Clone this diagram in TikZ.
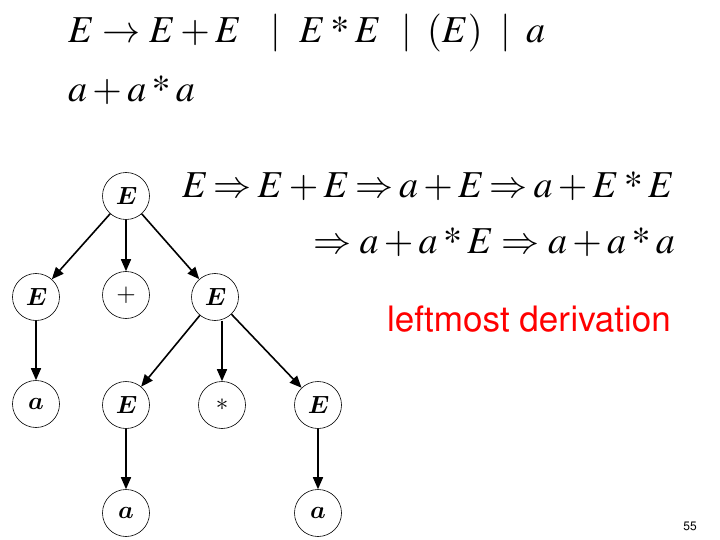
\documentclass[tikz,border=0pt]{standalone}
\usepackage[T1]{fontenc}
\usepackage{mathptmx}
\usetikzlibrary{arrows.meta}
\newcommand{\tE}{{\usefont{OML}{cmm}{b}{it}E}}
\newcommand{\ta}{{\usefont{OML}{cmm}{b}{it}a}}
\newcommand{\st}{\mathbin{\mbox{*}}}
\newcommand{\dimp}{\mskip-1.3mu\Rightarrow\mskip-1.3mu}
\begin{document}
\begin{tikzpicture}[x=1pt,y=-1pt,
  big/.style={anchor=base west, inner sep=0pt, font=\fontsize{38}{40}\selectfont},
  tn/.style={circle, draw, line width=0.6pt, minimum size=47pt, inner sep=0pt, font=\fontsize{25}{27}\selectfont},
  ed/.style={-{Triangle[length=12pt,width=10pt]}, line width=1.6pt}]
\useasboundingbox (0,0) rectangle (720,540);
% grammar
\node[big] (g1) at (68,43) {$E\rightarrow E+E$};
\node[big] (b1) at (270,43) {$|$};
\node[big] (g2) at (299,43) {$E\st E$};
\node[big] (b2) at (401,43) {$|$};
\node[big] (g3) at (427,43) {$(E)$};
\node[big] (b3) at (500,43) {$|$};
\node[big] (g4) at (526,43) {$a$};
\node[big] (w) at (68,102) {$a+a\st a$};
% derivation
\node[big] (d1) at (182,197) {$E\dimp E+E\dimp a+E\dimp a+E\st E$};
\node[big] (d2) at (313,253) {$\Rightarrow a+a\st E\Rightarrow a+a\st a$};
\node[anchor=base west, inner sep=0pt, text=red, font=\fontfamily{phv}\fontsize{35}{37}\selectfont] (lm) at (387,331) {leftmost derivation};
\node[anchor=center, inner sep=0pt, font=\fontfamily{phv}\fontsize{12}{14}\selectfont] (pg) at (690,527) {55};
% tree
\node[tn] (r) at (126,196) {\tE};
\node[tn] (l) at (36,297) {\tE};
\node[tn] (p) at (126,295) {$+$};
\node[tn] (m) at (215,297) {\tE};
\node[tn] (la) at (36,404) {\ta};
\node[tn] (me) at (126,405) {\tE};
\node[tn] (ms) at (222,405) {$*$};
\node[tn] (mr) at (318,405) {\tE};
\node[tn] (mea) at (126,513) {\ta};
\node[tn] (mra) at (318,513) {\ta};
\draw[ed] (r) -- (l);
\draw[ed] (r) -- (p);
\draw[ed] (r) -- (m);
\draw[ed] (l) -- (la);
\draw[ed] (m) -- (me);
\draw[ed] (m.south -| ms) -- (ms);
\draw[ed] (m) -- (mr);
\draw[ed] (me) -- (mea);
\draw[ed] (mr) -- (mra);
\end{tikzpicture}
\end{document}
